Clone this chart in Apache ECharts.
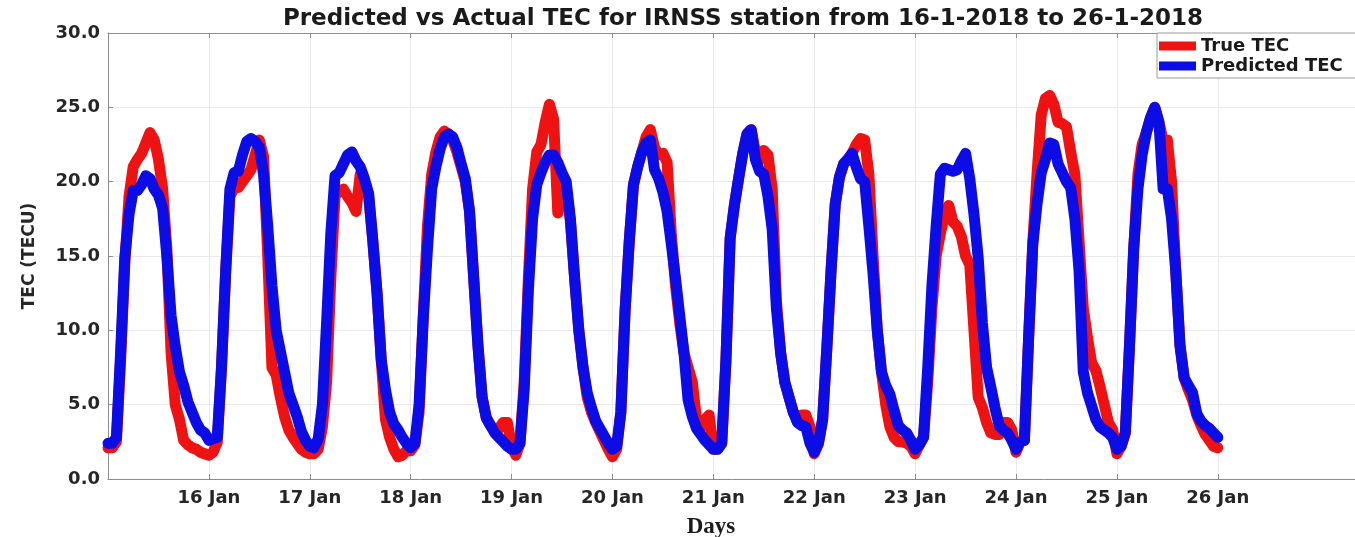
<!DOCTYPE html>
<html>
<head>
<meta charset="utf-8">
<script src="https://cdn.jsdelivr.net/npm/echarts@6/dist/echarts.min.js"></script>
<style>
html,body{margin:0;padding:0;background:#fff;}
#chart{width:1355px;height:537px;}
</style>
</head>
<body>
<div id="chart"></div>
<script>
// Hourly samples, 15 Jan 00:00 UT to 26 Jan 00:00 UT (one row per day, 24 values)
const trueTEC = [
  2.1, 2.1, 2.5, 8.0, 14.5, 19.0, 21.0, 21.5, 21.9, 22.6, 23.3, 22.8, 21.5, 19.5, 15.5, 8.5, 5.0, 4.0, 2.6, 2.3, 2.1, 2.0, 1.8, 1.7,
  1.6, 1.8, 2.5, 7.5, 14.0, 19.0, 19.6, 19.6, 20.0, 20.4, 20.8, 21.8, 22.8, 21.7, 15.0, 7.5, 7.0, 5.5, 4.2, 3.3, 2.8, 2.4, 2.0, 1.8,
  1.7, 1.7, 2.0, 3.5, 6.5, 13.5, 19.0, 19.4, 19.5, 19.0, 18.6, 18.0, 20.5, 20.0, 19.0, 16.0, 12.5, 8.0, 4.0, 2.8, 2.0, 1.5, 1.6, 1.9,
  1.9, 2.3, 4.5, 11.0, 17.0, 20.5, 22.0, 23.0, 23.4, 23.2, 22.8, 22.0, 21.0, 20.0, 18.0, 13.5, 9.0, 5.5, 4.1, 3.6, 3.3, 3.4, 3.8, 3.8,
  2.2, 1.6, 2.4, 6.5, 13.5, 19.5, 22.0, 22.5, 24.0, 25.2, 24.2, 17.9, 20.3, 19.6, 17.3, 13.5, 10.0, 7.5, 5.5, 4.5, 3.8, 3.2, 2.6, 2.0,
  1.5, 2.0, 4.5, 11.3, 16.0, 19.8, 21.0, 22.0, 23.0, 23.5, 22.3, 21.8, 21.9, 21.3, 16.5, 13.0, 10.5, 8.5, 7.5, 6.5, 4.0, 3.4, 4.0, 4.3,
  2.0, 2.0, 2.4, 8.0, 16.2, 18.4, 20.2, 21.9, 23.2, 23.5, 22.0, 21.5, 22.1, 21.8, 19.5, 12.0, 8.5, 6.5, 5.5, 4.5, 4.0, 4.3, 4.3, 3.5,
  1.7, 2.4, 4.0, 8.8, 14.0, 18.5, 20.3, 21.2, 21.5, 21.9, 22.5, 22.9, 22.8, 20.5, 15.0, 10.0, 7.2, 5.0, 3.5, 2.8, 2.5, 2.5, 2.4, 2.2,
  1.7, 2.3, 2.8, 6.5, 11.5, 15.0, 16.5, 17.8, 18.4, 17.3, 17.0, 16.3, 15.0, 14.4, 10.0, 5.5, 4.8, 3.8, 3.1, 3.0, 3.0, 3.8, 3.8, 3.3,
  1.8, 2.5, 2.6, 9.5, 16.0, 20.5, 24.5, 25.6, 25.8, 25.2, 24.0, 23.9, 23.7, 22.0, 20.5, 16.0, 11.5, 9.5, 7.8, 7.3, 6.2, 5.0, 3.8, 3.3,
  1.7, 2.2, 3.1, 9.0, 15.5, 20.5, 22.5, 23.3, 24.3, 25.0, 24.0, 22.8, 22.8, 20.0, 14.0, 9.0, 6.8, 6.0, 5.3, 4.3, 3.6, 3.0, 2.6, 2.2,
  2.1
];
const predictedTEC = [
  2.4, 2.4, 2.8, 8.5, 14.9, 17.8, 19.4, 19.4, 19.8, 20.4, 20.2, 19.5, 19.1, 18.2, 15.0, 11.0, 8.9, 7.2, 6.3, 5.2, 4.5, 3.8, 3.3, 3.1,
  2.6, 2.7, 2.8, 7.5, 14.0, 19.5, 20.6, 20.7, 21.8, 22.7, 22.9, 22.7, 22.3, 20.5, 17.0, 13.0, 10.0, 8.6, 7.2, 5.8, 5.0, 4.2, 3.2, 2.6,
  2.2, 2.1, 2.7, 5.0, 10.5, 16.5, 20.4, 20.6, 21.2, 21.8, 22.0, 21.4, 21.0, 20.2, 19.2, 16.0, 12.5, 8.0, 6.0, 4.5, 3.7, 3.3, 2.8, 2.4,
  2.1, 2.4, 5.0, 10.8, 15.5, 19.5, 21.0, 22.2, 23.0, 23.2, 23.0, 22.3, 21.2, 20.2, 18.0, 13.5, 9.0, 5.5, 4.1, 3.6, 3.1, 2.8, 2.5, 2.2,
  2.0, 2.0, 2.4, 6.0, 12.7, 17.5, 19.8, 20.6, 21.3, 21.8, 21.8, 21.3, 20.6, 20.0, 17.5, 13.5, 10.0, 7.5, 5.8, 4.8, 3.9, 3.4, 2.9, 2.4,
  2.0, 2.2, 4.5, 11.3, 16.0, 19.8, 21.0, 22.0, 22.6, 22.8, 20.8, 20.2, 19.3, 18.0, 15.8, 13.5, 11.0, 8.5, 5.3, 4.2, 3.4, 3.0, 2.6, 2.3,
  2.0, 2.0, 2.4, 8.0, 16.2, 18.4, 20.2, 21.9, 23.2, 23.5, 21.5, 20.7, 20.5, 19.0, 16.8, 11.5, 8.5, 6.5, 5.5, 4.5, 3.8, 3.6, 3.5, 2.4,
  1.8, 2.4, 4.0, 8.8, 14.0, 18.5, 20.3, 21.2, 21.5, 21.9, 21.0, 20.2, 20.0, 17.0, 13.8, 10.0, 7.2, 6.3, 5.7, 4.6, 3.6, 3.3, 3.1, 2.6,
  2.0, 2.3, 2.8, 7.5, 13.0, 17.0, 20.5, 20.9, 20.8, 20.7, 20.8, 21.4, 21.9, 20.2, 17.8, 14.9, 10.5, 7.5, 6.2, 4.8, 3.6, 3.3, 3.1, 2.6,
  2.0, 2.5, 2.6, 9.5, 15.8, 18.5, 20.6, 21.5, 22.6, 22.5, 21.2, 20.6, 20.0, 19.6, 17.5, 14.0, 7.2, 5.8, 4.9, 4.0, 3.5, 3.3, 3.1, 2.8,
  2.0, 2.2, 3.1, 9.0, 15.5, 19.5, 21.8, 23.3, 24.3, 25.0, 24.0, 19.5, 19.5, 17.5, 14.0, 9.0, 6.8, 6.3, 5.8, 4.4, 3.9, 3.6, 3.4, 3.1,
  2.8
];
// sample time, in days after 15 Jan 00:00 (hourly)
const sampleDays = trueTEC.map((_, i) => i / 24);
const dayTicks = [1, 2, 3, 4, 5, 6, 7, 8, 9, 10, 11];
const yTicks = [0, 5, 10, 15, 20, 25, 30];
const seriesNames = ['True TEC', 'Predicted TEC'];
const titleText = 'Predicted vs Actual TEC for IRNSS station from 16-1-2018 to 26-1-2018';

const chart = echarts.init(document.getElementById('chart'), null, {renderer: 'canvas'});
const FONT = 'DejaVu Sans';
const pair = arr => arr.map((v, i) => [sampleDays[i], v]);
const AX = '#8c8c8c';

chart.setOption({
  animation: false,
  backgroundColor: '#ffffff',
  title: [
    {text: titleText, left: 738, top: 3, textAlign: 'center',
     textStyle: {fontFamily: FONT, fontWeight: 'bold', fontSize: 23, color: '#1a1a1a'}},
    {text: 'Days', left: 706, top: 511, textAlign: 'center',
     textStyle: {fontFamily: 'Liberation Serif', fontWeight: 'bold', fontSize: 23, color: '#1a1a1a'}}
  ],
  legend: {
    data: seriesNames,
    orient: 'vertical',
    left: 1157, top: 33,
    padding: [4, 40, 3, 2],
    itemGap: 2,
    itemWidth: 37, itemHeight: 9,
    icon: 'rect',
    backgroundColor: '#ffffff',
    borderColor: '#9a9a9a', borderWidth: 1,
    textStyle: {fontFamily: FONT, fontWeight: 'bold', fontSize: 18, color: '#1a1a1a', lineHeight: 18}
  },
  grid: {left: 108, top: 33, right: 0, bottom: 58},
  xAxis: [{
    type: 'value', min: 0, max: 12.36, interval: 1,
    axisLine: {show: true, lineStyle: {color: AX}},
    axisTick: {show: true, inside: true, length: 5, customValues: dayTicks, lineStyle: {color: AX}},
    axisLabel: {customValues: dayTicks, margin: 10, fontFamily: FONT, fontWeight: 'bold', fontSize: 18, color: '#262626',
      formatter: v => (15 + v) + ' Jan'},
    splitLine: {show: true, lineStyle: {color: '#e9e9e9', width: 1}}
  }, {
    type: 'value', min: 0, max: 12.36, interval: 1, position: 'top',
    axisLine: {show: true, lineStyle: {color: AX}},
    axisTick: {show: true, inside: true, length: 5, customValues: dayTicks, lineStyle: {color: AX}},
    axisLabel: {show: false},
    splitLine: {show: false}
  }],
  yAxis: {
    type: 'value', min: 0, max: 30, interval: 5,
    name: 'TEC (TECU)', nameLocation: 'middle', nameRotate: 90, nameGap: 70,
    nameTextStyle: {fontFamily: FONT, fontWeight: 'bold', fontSize: 17, color: '#262626'},
    axisLine: {show: true, lineStyle: {color: AX}},
    axisTick: {show: true, inside: true, length: 5, customValues: yTicks, lineStyle: {color: AX}},
    axisLabel: {margin: 8, fontFamily: FONT, fontWeight: 'bold', fontSize: 18, color: '#262626',
      formatter: v => v.toFixed(1)},
    splitLine: {show: true, lineStyle: {color: '#e9e9e9', width: 1}}
  },
  series: [{
    name: seriesNames[0], type: 'line', data: pair(trueTEC), showSymbol: false, symbol: 'none',
    color: '#ee1212',
    lineStyle: {width: 11, color: '#ee1212', cap: 'round', join: 'round'}
  }, {
    name: seriesNames[1], type: 'line', data: pair(predictedTEC), showSymbol: false, symbol: 'none',
    color: '#0c0ce6',
    lineStyle: {width: 11, color: '#0c0ce6', cap: 'round', join: 'round'}
  }]
});
</script>
</body>
</html>
